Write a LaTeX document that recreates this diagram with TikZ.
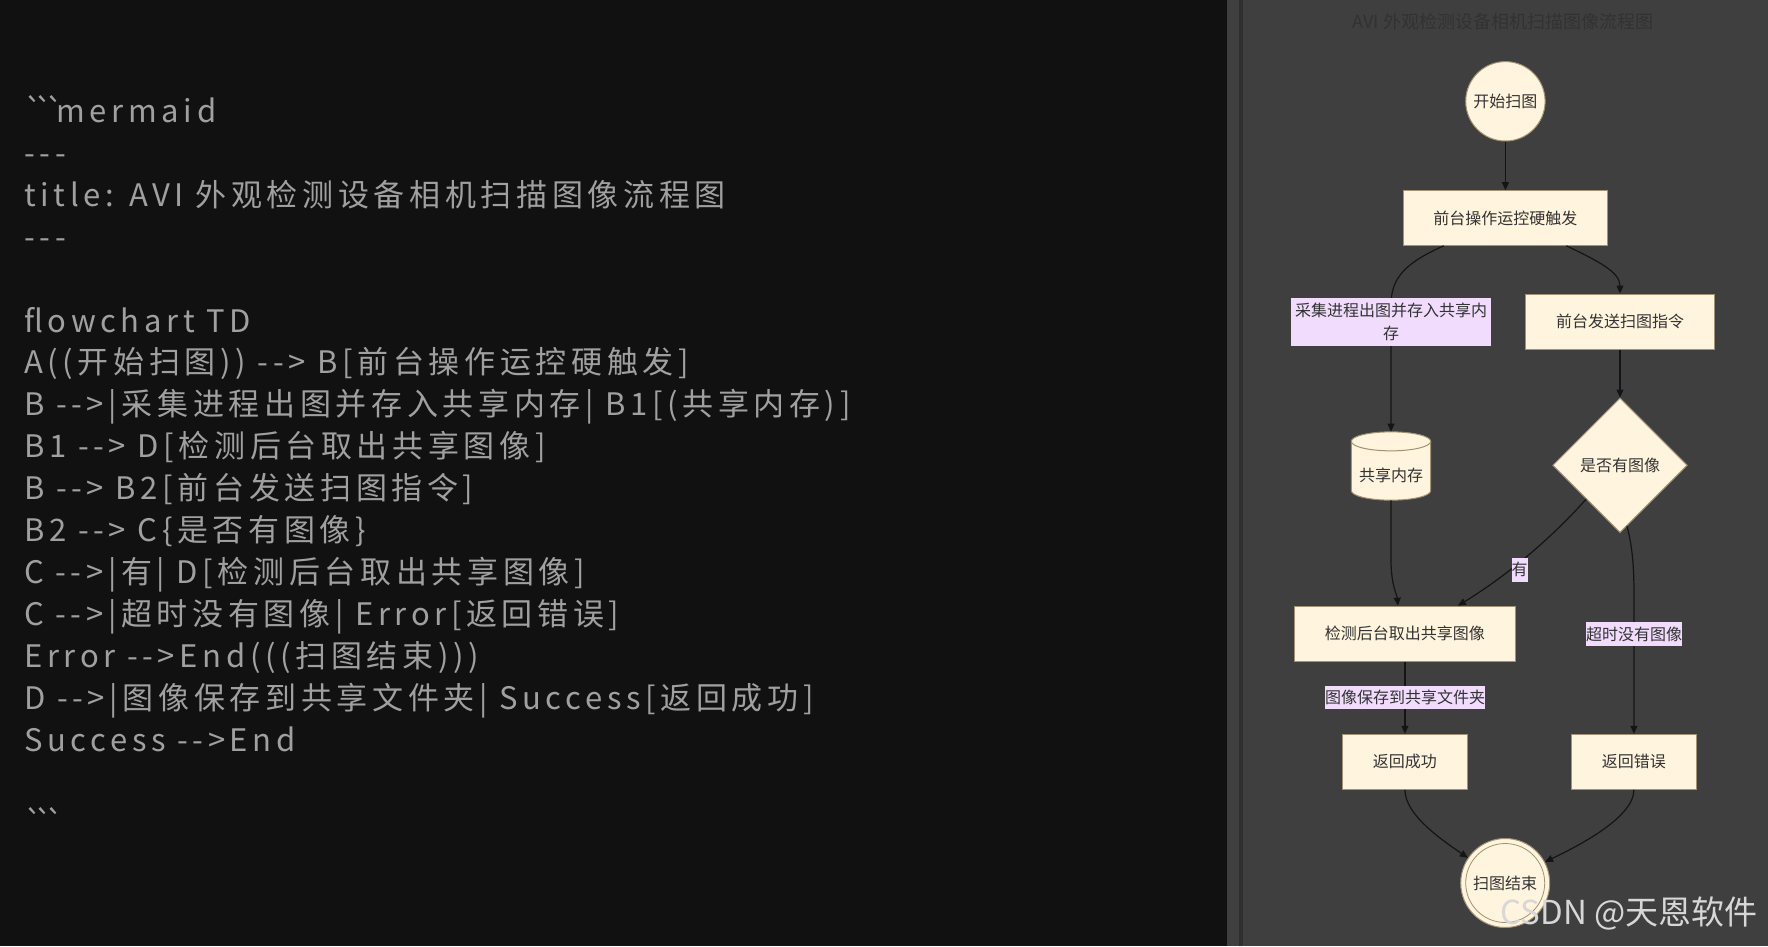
\documentclass[tikz,border=0pt]{standalone}
\usepackage{fontspec}
\usetikzlibrary{arrows.meta,shapes.geometric}
\newfontfamily\cjk{Noto Sans CJK SC}
\newfontfamily\codefont[LetterSpace=15]{Noto Sans CJK SC}
\newcommand{\bticks}{\symbol{96}\kern-8pt\symbol{96}\kern-8pt\symbol{96}\kern-8pt}
\definecolor{leftbg}{RGB}{17,17,17}
\definecolor{rightbg}{RGB}{63,63,63}
\definecolor{stripe}{RGB}{47,47,47}
\definecolor{codetext}{RGB}{160,160,160}
\definecolor{nodefill}{RGB}{255,244,221}
\definecolor{nodeborder}{RGB}{160,146,115}
\definecolor{nodetext}{RGB}{51,51,51}
\definecolor{edgecol}{RGB}{20,20,20}
\definecolor{labelbg}{RGB}{241,220,253}
\definecolor{titlecol}{RGB}{50,50,50}
\definecolor{wmark}{RGB}{215,215,215}
\begin{document}
\begin{tikzpicture}[x=1pt,y=-1pt,
  every node/.style={font=\cjk\fontsize{16}{19}\selectfont, text=nodetext},
  box/.style={draw=nodeborder, fill=nodefill, line width=1pt, minimum height=55pt, inner sep=0pt},
  startc/.style={circle, draw=nodeborder, fill=nodefill, line width=1pt, minimum size=79.4pt, inner sep=0pt},
  endc/.style={circle, draw=nodeborder, fill=nodefill, line width=1pt, minimum size=89pt, inner sep=0pt},
  dia/.style={diamond, aspect=1, draw=nodeborder, fill=nodefill, line width=1pt, minimum width=134.6pt, minimum height=134.6pt, inner sep=0pt},
  elabel/.style={fill=labelbg, inner sep=0pt, minimum height=23.4pt, align=center},
  edge/.style={draw=edgecol, line width=1.2pt, -{Triangle[length=8pt,width=7pt]}},
  codeline/.style={anchor=base west, inner sep=0pt, text=codetext, font=\codefont\fontsize{31}{36}\selectfont},
]
\useasboundingbox (0,0) rectangle (1768,946);
% backgrounds
\fill[leftbg] (0,0) rectangle (1227,946);
\fill[rightbg] (1227,0) rectangle (1768,946);
\fill[stripe] (1239,0) rectangle (1243,946);

% code text
\node[codeline] (c0) at (24,122.5) {\bticks mermaid};
\node[codeline] (c1) at (24,164.4) {-{}-{}-};
\node[codeline] (c2) at (24,206.3) {title: AVI 外观检测设备相机扫描图像流程图};
\node[codeline] (c3) at (24,248.2) {-{}-{}-};
\node[codeline] (c5) at (24,332) {flowchart TD};
\node[codeline] (c6) at (24,373.9) {A((开始扫图)) -{}-{}> B[前台操作运控硬触发]};
\node[codeline] (c7) at (24,415.8) {B -{}-{}>|采集进程出图并存入共享内存| B1[(共享内存)]};
\node[codeline] (c8) at (24,457.7) {B1 -{}-{}> D[检测后台取出共享图像]};
\node[codeline] (c9) at (24,499.6) {B -{}-{}> B2[前台发送扫图指令]};
\node[codeline] (c10) at (24,541.5) {B2 -{}-{}> C\{是否有图像\}};
\node[codeline] (c11) at (24,583.4) {C -{}-{}>|有| D[检测后台取出共享图像]};
\node[codeline] (c12) at (24,625.3) {C -{}-{}>|超时没有图像| Error[返回错误]};
\node[codeline] (c13) at (24,667.2) {Error -{}-{}>End(((扫图结束)))};
\node[codeline] (c14) at (24,709.1) {D -{}-{}>|图像保存到共享文件夹| Success[返回成功]};
\node[codeline] (c15) at (24,751) {Success -{}-{}>End};
\node[codeline] (c17) at (24,834.8) {\bticks};

% title
\node[text=titlecol, font=\cjk\fontsize{18}{21}\selectfont] (title) at (1503,22) {AVI 外观检测设备相机扫描图像流程图};

% nodes
\node[startc] (A) at (1505.4,101.3) {开始扫图};
\node[box, minimum width=204.6pt, minimum height=54.6pt] (B) at (1505.4,218) {前台操作运控硬触发};
\node[box, minimum width=188.5pt] (B2) at (1620,321.5) {前台发送扫图指令};
\node[inner sep=0pt, minimum width=79.4pt, minimum height=68.3pt] (B1) at (1391,466) {};
\begin{scope}[shift={(B1.center)}]
  \filldraw[fill=nodefill, draw=nodeborder, line width=1pt]
    (-39.7,-24.65) -- (-39.7,24.65)
    arc[start angle=180, end angle=0, x radius=39.7, y radius=9.5]
    -- (39.7,-24.65)
    arc[start angle=0, end angle=-180, x radius=39.7, y radius=9.5] -- cycle;
  \draw[draw=nodeborder, line width=1pt] (-39.7,-24.65)
    arc[start angle=180, end angle=0, x radius=39.7, y radius=9.5];
\end{scope}
\node (B1t) at (1391,475) {共享内存};
\node[dia] (C) at (1620,465.3) {是否有图像};
\node[box, minimum width=221pt] (D) at (1404.9,633.7) {检测后台取出共享图像};
\node[box, minimum width=125pt] (S) at (1404.9,761.8) {返回成功};
\node[box, minimum width=125pt] (E) at (1633.9,761.8) {返回错误};
\node[endc] (End) at (1505.2,883) {};
\draw[draw=nodeborder, line width=0.8pt] (End.center) circle (39.5pt);
\node (Endt) at (End.center) {扫图结束};

% edges
\draw[edge] (A) -- (B);
\draw[edge] ([xshift=-61.6pt]B.south) .. controls (1405,263) and (1391,278) .. (1391,305) -- (B1.north);
\draw[edge] ([xshift=61pt]B.south) .. controls (1598,261) and (1620,272) .. (B2.north);
\draw[edge] (B2.south) -- (C.north);
\draw[edge] (B1.south) -- (1391,560) .. controls (1391,585) and (1397,595) .. ([xshift=-7pt]D.north);
\draw[edge] (C.south west) .. controls (1545,545) and (1500,580) .. ([xshift=53pt]D.north);
\draw[edge] ([xshift=7pt,yshift=7pt]C.south) .. controls (1632,545) and (1634,565) .. (1634,595) -- (E.north);
\draw[edge] (D) -- (S);
\draw[edge] (S.south) .. controls (1405,815) and (1442,840) .. (End.146);
\draw[edge] (E.south) .. controls (1634,818) and (1576,847) .. (End.28);

% edge labels
\node[elabel, minimum width=199.5pt, minimum height=48pt, font=\cjk\fontsize{16}{23}\selectfont] (L1) at (1391,322) {采集进程出图并存入共享内\\存};
\node[elabel, minimum width=15.7pt, minimum height=24pt] (L2) at (1519.7,569.7) {有};
\node[elabel, minimum width=96pt] (L3) at (1634,634) {超时没有图像};
\node[elabel, minimum width=160pt] (L4) at (1405,697.7) {图像保存到共享文件夹};

% watermark
\node[text=wmark, font=\cjk\fontsize{33}{38}\selectfont] (wm) at (1629,913) {CSDN @天恩软件};
\end{tikzpicture}
\end{document}
